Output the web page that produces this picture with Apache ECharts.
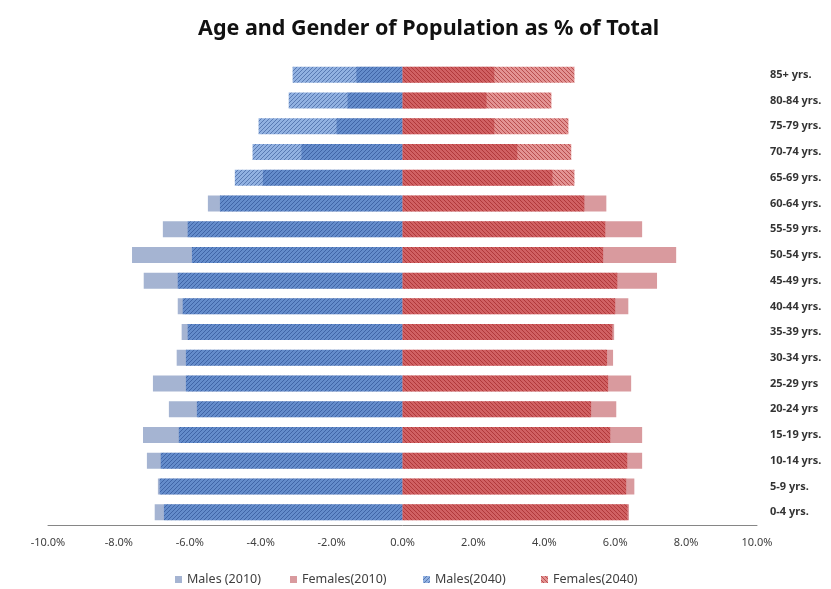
<!DOCTYPE html>
<html>
<head>
<meta charset="utf-8">
<script src="https://cdn.jsdelivr.net/npm/echarts@6/dist/echarts.min.js"></script>
<style>html,body{margin:0;padding:0;background:#fff}#c{width:831px;height:589px}</style>
</head>
<body>
<div id="c"></div>
<script>
// Categories from bottom to top
var categories = ['0-4 yrs.','5-9 yrs.','10-14 yrs.','15-19 yrs.','20-24 yrs','25-29 yrs','30-34 yrs.','35-39 yrs.','40-44 yrs.','45-49 yrs.','50-54 yrs.','55-59 yrs.','60-64 yrs.','65-69 yrs.','70-74 yrs.','75-79 yrs.','80-84 yrs.','85+ yrs.'];
var males2010   = [-6.99,-6.90,-7.21,-7.32,-6.59,-7.04,-6.37,-6.23,-6.34,-7.30,-7.63,-6.76,-5.49,-3.94,-2.85,-1.86,-1.55,-1.30];
var females2010 = [6.39,6.54,6.76,6.76,6.03,6.45,5.94,5.97,6.37,7.18,7.72,6.76,5.75,4.23,3.24,2.59,2.37,2.59];
var males2040   = [-6.73,-6.85,-6.82,-6.31,-5.80,-6.11,-6.11,-6.06,-6.20,-6.34,-5.94,-6.06,-5.15,-4.73,-4.23,-4.06,-3.21,-3.10];
var females2040 = [6.35,6.31,6.34,5.86,5.32,5.80,5.77,5.92,6.00,6.06,5.66,5.72,5.13,4.85,4.76,4.68,4.20,4.85];
var xTicks = [-10,-8,-6,-4,-2,0,2,4,6,8,10];
var seriesNames = ['Males (2010)','Females(2010)','Males(2040)','Females(2040)'];

function hatch(bg, line, forward) {
  var c = document.createElement('canvas');
  c.width = 4; c.height = 4;
  var ctx = c.getContext('2d');
  ctx.fillStyle = bg; ctx.fillRect(0,0,4,4);
  for (var i = 0; i < 4; i++) {
    var x = i, y = forward ? 3 - i : i;
    ctx.clearRect(x, y, 1, 1);
    ctx.fillStyle = line; ctx.fillRect(x, y, 1, 1);
  }
  return {image: c, repeat: 'repeat'};
}
var maleHatch = hatch('rgba(35,100,195,0.5)', 'rgba(25,70,150,0.72)', true);
var femaleHatch = hatch('rgba(200,40,40,0.5)', 'rgba(165,30,30,0.78)', false);

var chart = echarts.init(document.getElementById('c'), null, {renderer: 'canvas'});
var font = 'Noto Sans';
function legendAt(name, left) {
  return {
    data: [name], left: left, top: 568, itemWidth: 7, itemHeight: 7, itemGap: 5,
    icon: 'rect',
    textStyle: {fontFamily: font, fontSize: 12.5, color: '#404040'}
  };
}
chart.setOption({
  animation: false,
  title: {
    text: 'Age and Gender of Population as % of Total',
    left: 193, top: 13,
    textStyle: {fontFamily: font, fontWeight: 'bold', fontSize: 21.5, color: '#111'}
  },
  legend: [legendAt(seriesNames[0], 170), legendAt(seriesNames[1], 285), legendAt(seriesNames[2], 418), legendAt(seriesNames[3], 536)],
  grid: {left: 48, right: 74, top: 62, bottom: 64, containLabel: false},
  xAxis: {
    type: 'value', min: xTicks[0], max: xTicks[xTicks.length-1], interval: 2,
    axisLine: {show: true, lineStyle: {color: '#868686'}},
    axisTick: {show: false},
    splitLine: {show: false},
    axisLabel: {margin: 12, fontFamily: font, fontSize: 11, color: '#404040',
      formatter: function(v){ return v.toFixed(1) + '%'; }}
  },
  yAxis: {
    type: 'category', data: categories, position: 'right',
    axisLine: {show: false}, axisTick: {show: false},
    axisLabel: {margin: 13, fontFamily: font, fontSize: 11, fontWeight: 'bold', color: '#333'}
  },
  series: [
    {name: seriesNames[0], type: 'bar', data: males2010, barWidth: 16, barGap: '-100%', itemStyle: {color: '#a5b4d2'}},
    {name: seriesNames[1], type: 'bar', data: females2010, barWidth: 16, barGap: '-100%', itemStyle: {color: '#d99a9e'}},
    {name: seriesNames[2], type: 'bar', data: males2040, barWidth: 16, barGap: '-100%', itemStyle: {color: maleHatch}},
    {name: seriesNames[3], type: 'bar', data: females2040, barWidth: 16, barGap: '-100%', itemStyle: {color: femaleHatch}}
  ]
});
</script>
</body>
</html>
